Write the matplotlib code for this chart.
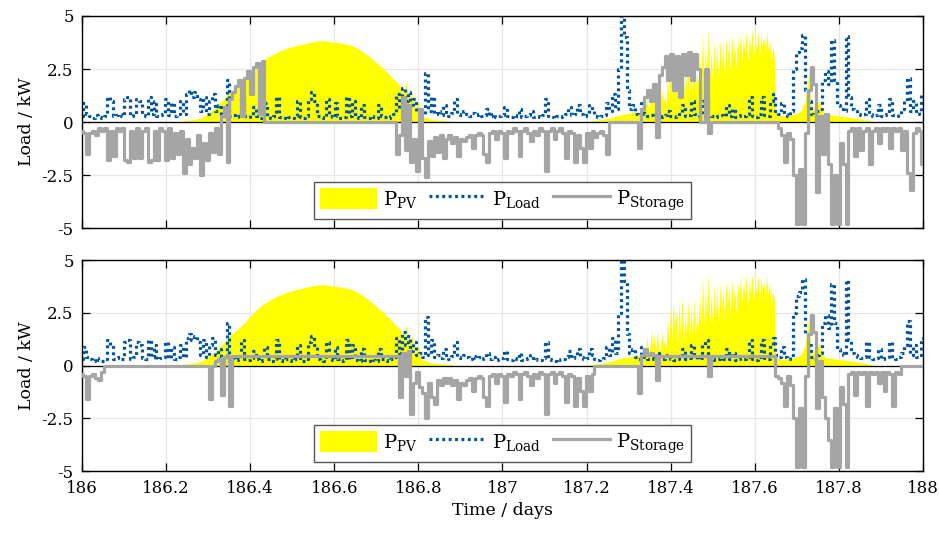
import numpy as np
import matplotlib
matplotlib.use("Agg")
import matplotlib.pyplot as plt
from matplotlib.patches import Patch
from matplotlib.lines import Line2D

plt.rcParams["font.family"] = "DejaVu Serif"
plt.rcParams["mathtext.fontset"] = "custom"
plt.rcParams["mathtext.rm"] = "DejaVu Serif"
plt.rcParams["mathtext.it"] = "DejaVu Serif:italic"

# ---------------------------------------------------------------- data
# load and storage are sampled every 10 minutes from day 186 to day 188
t_start = 186.0
n_samples = 289

load_kw = [
    0.3, 0.9, 0.4, 0.3, 0.2, 0.35, 0.25, 0.2, 0.3, 1.2, 1.0, 0.3,
    0.35, 0.4, 0.3, 1.1, 1.2, 0.3, 0.4, 1.1, 1.0, 0.35, 0.3, 1.2,
    0.4, 1.0, 0.3, 0.35, 0.4, 1.1, 0.35, 0.9, 0.3, 0.4, 1.0, 0.4,
    1.3, 1.5, 1.2, 1.4, 1.1, 0.5, 1.2, 0.4, 1.0, 1.3, 0.5, 0.8,
    0.4, 0.3, 2.0, 0.3, 0.35, 0.25, 0.3, 1.2, 0.3, 0.25, 0.35, 0.7,
    0.3, 0.2, 0.25, 0.9, 0.3, 0.2, 0.3, 1.2, 0.25, 0.2, 0.3, 0.25,
    0.2, 0.3, 1.0, 0.25, 0.2, 0.3, 1.1, 1.4, 1.0, 0.3, 0.25, 0.2,
    1.1, 0.3, 0.25, 0.9, 0.3, 0.2, 0.25, 1.2, 0.3, 1.0, 0.25, 0.2,
    0.8, 0.25, 0.2, 0.3, 0.25, 0.2, 0.8, 0.3, 0.25, 0.2, 0.3, 0.4,
    1.3, 0.6, 1.6, 1.0, 1.4, 0.7, 1.1, 0.5, 0.6, 0.4, 2.3, 0.5,
    1.2, 0.4, 0.5, 0.35, 0.8, 0.4, 0.3, 0.45, 1.1, 0.4, 0.35, 0.5,
    0.4, 0.3, 0.45, 0.35, 0.4, 0.3, 0.35, 0.6, 0.3, 0.4, 0.25, 0.3,
    0.35, 0.7, 0.3, 0.25, 0.35, 0.3, 0.6, 0.25, 0.3, 0.35, 0.5, 0.25,
    0.3, 0.25, 0.35, 1.1, 0.3, 0.25, 0.2, 0.3, 0.25, 0.3, 0.4, 0.7,
    0.35, 0.4, 0.8, 0.4, 0.3, 0.35, 0.8, 0.5, 0.3, 0.25, 0.3, 0.35,
    0.9, 0.5, 1.3, 0.6, 2.5, 5.0, 4.0, 1.5, 0.6, 0.8, 0.4, 0.3,
    0.9, 0.4, 0.3, 0.35, 0.3, 0.6, 0.25, 0.3, 0.35, 0.5, 0.3, 0.25,
    0.3, 0.4, 0.8, 0.3, 0.35, 1.0, 0.4, 0.3, 0.35, 1.0, 1.2, 0.4,
    0.3, 0.25, 0.3, 0.35, 0.3, 0.8, 0.3, 0.6, 0.25, 0.3, 0.35, 0.3,
    0.4, 1.2, 0.3, 0.25, 0.4, 1.2, 0.35, 0.3, 1.0, 1.3, 0.5, 0.4,
    0.9, 0.4, 0.3, 0.5, 2.5, 3.3, 3.5, 4.1, 1.5, 1.0, 0.4, 0.3,
    0.5, 0.6, 2.0, 2.4, 1.8, 3.85, 2.0, 0.8, 0.6, 0.5, 4.05, 1.2,
    0.6, 0.5, 0.4, 0.35, 0.4, 1.1, 0.4, 0.3, 0.35, 0.8, 0.3, 0.35,
    0.4, 1.1, 0.35, 0.3, 0.4, 0.6, 1.0, 2.1, 0.5, 1.0, 0.4, 0.5,
    1.3,
]

# PV generation, day 1 on a 10-minute grid, day 2 on a 5-minute grid
pv_day1_start = 186 + 32 / 144
pv_day1_kw = [
    0.0, 0.02, 0.04, 0.06, 0.08, 0.1, 0.12, 0.14, 0.17,
    0.22, 0.3, 0.4, 0.5, 0.6, 0.72, 0.88, 1.02, 1.18, 1.32,
    1.45, 1.58, 1.7, 1.82, 1.95, 2.08, 2.25, 2.4, 2.55, 2.68,
    2.8, 2.9, 3.0, 3.08, 3.16, 3.23, 3.3, 3.36, 3.42, 3.47,
    3.51, 3.55, 3.59, 3.63, 3.66, 3.69, 3.72, 3.75, 3.78, 3.8,
    3.83, 3.82, 3.84, 3.8, 3.79, 3.77, 3.76, 3.73, 3.71, 3.69,
    3.66, 3.62, 3.57, 3.5, 3.42, 3.33, 3.23, 3.13, 3.02, 2.9,
    2.78, 2.66, 2.54, 2.4, 2.27, 2.12, 1.98, 1.85, 1.7, 1.3,
    1.9, 0.9, 1.4, 0.5, 1.0, 0.3, 0.25, 0.2, 0.15, 0.12,
    0.1, 0.1, 0.08, 0.07, 0.06, 0.05, 0.03, 0.0,
]

pv_day2_start = 186 + 172 / 144
pv_day2_kw = [
    # morning
    0.0, 0.01, 0.02, 0.03, 0.04, 0.05, 0.06, 0.07, 0.08, 0.09,
    0.1, 0.11, 0.12, 0.13, 0.14, 0.15, 0.17, 0.19, 0.2, 0.22,
    0.24, 0.26, 0.28, 0.3, 0.32, 0.34, 0.36, 0.4, 0.35, 0.42,
    0.38, 0.45, 0.4, 0.5, 0.42, 0.55,
    # cloudy midday
    0.4, 0.5, 0.45, 0.6, 0.5, 0.7, 0.6, 1.4, 0.6, 0.8,
    1.8, 0.6, 1.5, 0.7, 1.7, 0.8, 0.7, 1.6, 0.9, 1.2, 0.8, 2.2,
    1.0, 2.8, 1.2, 3.2, 1.5, 2.6, 1.0, 3.0, 1.4, 3.3, 1.1,
    2.5, 1.6, 3.1, 1.2, 2.9, 1.5, 3.2, 1.3, 2.4, 1.8, 3.3,
    1.6, 4.3, 1.9, 3.6, 2.2, 4.4, 2.0, 3.4, 1.8, 3.9, 2.3,
    3.6, 2.0, 3.9, 2.6, 3.7, 2.2, 4.0, 2.8, 3.8, 2.4, 4.1, 3.0,
    3.7, 2.5, 4.0, 3.1,
    4.2, 3.0, 3.9, 3.3, 4.3, 2.9, 4.0, 3.4, 4.4, 3.1, 3.8, 3.5,
    4.3, 3.0, 4.2, 3.6, 4.0, 3.2, 4.3, 3.4, 3.9, 2.8, 3.5, 3.3,
    0.6, 0.4, 0.35, 0.3, 0.3, 0.3,
    # afternoon and evening
    0.3, 0.3, 0.32, 0.3, 0.35, 0.32, 0.35, 0.38, 0.4, 0.42, 0.45, 0.5, 0.6, 0.8,
    0.9, 1.3, 1.9, 2.5,
    0.7, 0.5, 0.6, 0.8, 1.0, 0.9, 1.1, 0.7, 0.5, 0.45,
    0.4, 0.38, 0.36, 0.35, 0.34, 0.33, 0.32, 0.31, 0.3, 0.3,
    0.29, 0.28, 0.27, 0.26, 0.25, 0.24, 0.23, 0.22, 0.21, 0.2,
    0.19, 0.18, 0.17, 0.16, 0.15, 0.14, 0.12, 0.11, 0.1, 0.09,
    0.07, 0.06, 0.05, 0.03, 0.02, 0.0,
]

# storage power, unrestricted operation (upper panel)
storage_free_kw = (
    [-0.4, -0.5, -1.5, -0.5, -0.4, -0.6, -0.3, -0.4, -0.3, -1.8, -0.4, -1.6,
     -0.3, -0.4, -0.3, -1.8, -1.9, -0.4, -1.7, -0.3, -1.7, -0.4, -0.3, -1.9,
     -1.8, -0.4, -1.8, -0.3, -0.4, -1.8, -0.3, -1.7, -0.5, -1.5, -0.4, -2.4,
     -0.8, -2.0, -1.2, -1.7, -0.6, -2.5, -1.0, -1.8, -0.5, -1.4, -0.3, -1.5,
     0.3, 0.7, -1.9, 1.1, 1.4, 1.7, 2.0, 0.3, 2.1, 2.4, 1.3, 2.6,
     2.8, 0.4, 2.9]
    + [0.0] * 45
    + [-1.5, -0.6, 1.2, -1.3, 0.8, -1.9, -0.8, -2.3, 0.6, -1.7, -2.6, -0.9,
       -1.6, -0.7, -1.4, -0.6, -1.7, -0.8, -0.6, -1.0, -0.7, -1.6, -0.8, -0.9]
    + [-0.7, -0.6, -1.2, -0.6, -0.5, -0.6, -1.5, -1.9, -0.5, -0.4, -0.8, -0.4,
       -0.5, -1.7, -0.4, -0.5, -0.3, -0.4, -1.6, -0.4, -0.3, -0.5, -0.9, -0.4,
       -0.6, -0.3, -0.4, -2.3, -0.4, -0.3, -0.8, -0.4, -0.3, -0.5, -1.7, -0.4,
       -0.5, -1.9, -0.6, -1.2, -1.9, -0.5, -1.2, -0.4, -0.7, -0.5, -0.4, -0.6,
       -1.5]
    + [0.0] * 10
    + [-1.2, 0.6, 1.2, 1.5, 1.0, 1.8, -0.7, 2.2, 2.6, 3.1, 2.0, 3.2, 1.5,
       3.1, 1.2, 3.2, 2.2, 3.3, 2.0, 3.2, 2.5, 0.0, 0.0, 2.5, -0.5]
    + [0.0] * 23
    + [-0.3, -0.6, -1.9, -0.5, -0.8, -2.5, -4.8, -2.2, -4.8, -0.5,
       1.5, 2.6, 1.8, -3.3, 0.3, -1.5, 0.4, -2.0, -4.8, -2.5,
       -4.8, -1.0, -2.0, -4.8, -0.4, -0.3, -1.6, -0.3, -1.3, -0.4,
       -0.3, -2.0, -0.4, -0.3, -1.0, -0.3, -0.4, -0.3, -1.2, -0.3,
       -0.4, -0.3, -1.3, -0.4, -2.4, -3.2, -0.5, -0.3, -0.4, -2.0]
)

# storage power, with limited charging power (lower panel)
storage_limited_kw = (
    [-0.4, -0.5, -1.6, -0.5, -0.4, -0.6, -0.7, -0.3]
    + [0.0] * 36
    + [-1.6, 0.0, 0.2, 0.3, -1.4, 0.4, 0.48, -1.9]
    + [0.48] * 57
    + [-1.5, 0.6, -0.5, 0.7, -2.3, -0.8, -0.3, -1.0, -1.3, -2.5, -0.8, -1.5,
       -1.8, -0.7, -0.9, -0.6, -0.8, -0.6, -0.9, -0.7, -1.6, -0.8, -0.9]
    + [-0.7, -0.6, -1.2, -0.6, -0.5, -0.6, -1.5, -1.9, -0.5, -0.4, -0.8, -0.4,
       -0.5, -1.7, -0.4, -0.5, -0.3, -0.4, -1.6, -0.4, -0.3, -0.5, -0.9, -0.4,
       -0.6, -0.3, -0.4, -2.3, -0.4, -0.3, -0.8, -0.4, -0.3, -0.5, -1.7, -0.4,
       -0.5, -1.9, -0.6, -1.2, -1.9, -0.5, -1.2, -0.4]
    + [0.0] * 15
    + [-1.3, 0.5, 0.8, 0.5, 0.6, 0.5, -0.7]
    + [0.48] * 17
    + [-0.5]
    + [0.48] * 22
    + [-0.5, -0.6, -0.8, -1.9, -0.5, -0.9, -2.5, -4.8, -2.0, -4.8,
       -0.5, 1.5, 2.4, 1.6, -2.0, 0.2, -1.5, -2.5, -3.5, -4.8,
       -2.0, -4.8, -1.0, -1.8, -4.8, -0.4, -0.3, -1.4, -0.3, -0.4,
       -0.3, -1.9, -0.3, -0.4, -0.3, -0.8, -0.3, -1.2, -0.3, -0.4,
       -1.9, -0.3, -0.4]
    + [0.0] * 8
)

x_ticks = [186, 186.2, 186.4, 186.6, 186.8, 187, 187.2, 187.4, 187.6, 187.8, 188]
x_tick_labels = ["186", "186.2", "186.4", "186.6", "186.8", "187",
                 "187.2", "187.4", "187.6", "187.8", "188"]
y_ticks = [-5, -2.5, 0, 2.5, 5]
y_tick_labels = ["-5", "-2.5", "0", "2.5", "5"]

# ---------------------------------------------------------------- style
YELLOW = "#FFFF00"
BLUE = "#00549F"
GRAY = "#A5A5A5"
LOAD_DASH = (0, (0.9, 1.1))

t_grid = t_start + np.arange(n_samples) / 144
t_pv1 = pv_day1_start + np.arange(len(pv_day1_kw)) / 144
t_pv2 = pv_day2_start + np.arange(len(pv_day2_kw)) / 288

fig = plt.figure(figsize=(9.39, 5.33), dpi=100)
ax_top = fig.add_axes([0.0873, 0.572, 0.8956, 0.398])
ax_bot = fig.add_axes([0.0873, 0.116, 0.8956, 0.396])


def draw_panel(ax, storage, show_xlabels):
    ax.fill_between(t_pv1, 0, pv_day1_kw, color=YELLOW, lw=0, zorder=1)
    ax.fill_between(t_pv2, 0, pv_day2_kw, color=YELLOW, lw=0, zorder=1)
    ax.axhline(0, color="black", lw=0.9, zorder=1.5)
    ax.plot(t_grid, load_kw, ls=LOAD_DASH, color=BLUE, lw=2.3, zorder=2,
            drawstyle="steps-mid")
    ax.plot(t_grid, storage, color=GRAY, lw=2.3, zorder=3,
            drawstyle="steps-mid")

    ax.set_xlim(186, 188)
    ax.set_ylim(-5, 5)
    ax.set_xticks(x_ticks)
    ax.set_yticks(y_ticks)
    ax.set_yticklabels(y_tick_labels)
    if show_xlabels:
        ax.set_xticklabels(x_tick_labels)
        ax.set_xlabel("Time / days", fontsize=12.5, labelpad=4)
    else:
        ax.set_xticklabels([])
    ax.set_ylabel("Load / kW", fontsize=12.5, labelpad=5)
    ax.tick_params(direction="in", length=6, width=0.9, top=True, right=True,
                   labelsize=12, pad=6)
    ax.grid(True, color="#e6e6e6", lw=0.9, zorder=0)
    ax.set_axisbelow(True)
    for s in ax.spines.values():
        s.set_linewidth(1.0)

    handles = [
        Patch(facecolor=YELLOW, edgecolor="none"),
        Line2D([], [], ls=LOAD_DASH, color=BLUE, lw=2.3),
        Line2D([], [], color=GRAY, lw=2.3),
    ]
    labels = [r"$\mathrm{P}_{\mathrm{PV}}$", r"$\mathrm{P}_{\mathrm{Load}}$",
              r"$\mathrm{P}_{\mathrm{Storage}}$"]
    leg = ax.legend(handles, labels, loc="lower center",
                    bbox_to_anchor=(0.5, 0.045), borderaxespad=0, ncol=3,
                    fontsize=14, frameon=True, fancybox=False, framealpha=1,
                    handlelength=2.95, handleheight=1.3, handletextpad=0.3,
                    columnspacing=0.6, borderpad=0.3)
    leg.get_frame().set_edgecolor("#555555")
    leg.get_frame().set_linewidth(1.0)
    leg.set_zorder(5)


draw_panel(ax_top, storage_free_kw, False)
draw_panel(ax_bot, storage_limited_kw, True)

fig.savefig("out.png", dpi=100)
